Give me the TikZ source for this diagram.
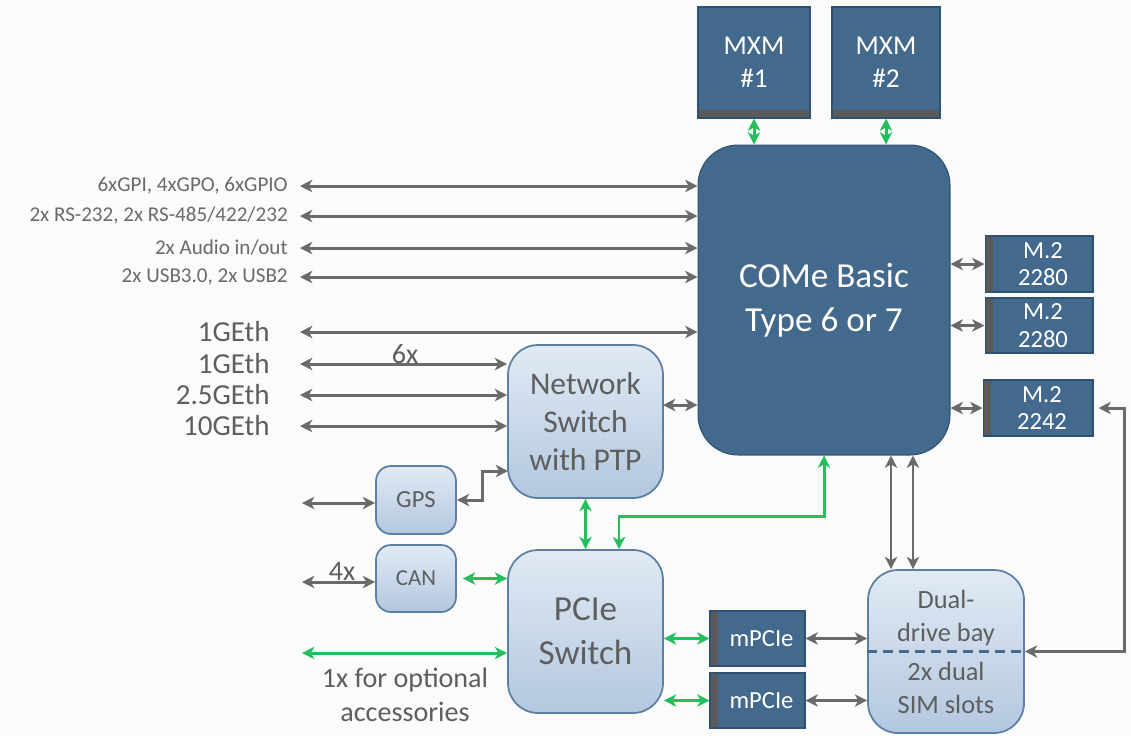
\documentclass[tikz,border=0pt]{standalone}
\usepackage{fontspec}
\setmainfont{Carlito}
\usetikzlibrary{arrows.meta}

\definecolor{boxdark}{HTML}{43698D}
\definecolor{boxedge}{HTML}{2F5273}
\definecolor{bargrey}{HTML}{5A5A5A}
\definecolor{lighttop}{HTML}{E1EAF4}
\definecolor{lightbot}{HTML}{B3C7DF}
\definecolor{lightedge}{HTML}{5C7FA4}
\definecolor{linkgrey}{HTML}{6A6A6A}
\definecolor{linkgreen}{HTML}{22BF5B}
\definecolor{txtgrey}{HTML}{5E5E5E}

\tikzset{
  darkbox/.style={draw=boxedge, line width=0.6pt, fill=boxdark, text=white, align=center, inner sep=0pt},
  botbar/.style={path picture={\fill[bargrey] (path picture bounding box.south west) rectangle ([yshift=0.16cm]path picture bounding box.south east);}},
  leftbar/.style={path picture={\fill[bargrey] (path picture bounding box.south west) rectangle ([xshift=0.16cm]path picture bounding box.north west);}},
  lightbox/.style={draw=lightedge, line width=1pt, top color=lighttop, bottom color=lightbot, text=txtgrey, align=center, inner sep=0pt},
  link/.style={draw=linkgrey, line width=1.7pt, {Stealth[length=7pt,width=7pt,inset=2pt]}-{Stealth[length=7pt,width=7pt,inset=2pt]}},
  glink/.style={link, draw=linkgreen},
  smalltxt/.style={text=linkgrey, font=\fontsize{12}{14}\selectfont, anchor=east, inner sep=0pt},
  ethtxt/.style={text=txtgrey, font=\fontsize{16.5}{19}\selectfont, anchor=east, inner sep=0pt},
  note/.style={text=txtgrey, font=\fontsize{16}{19}\selectfont, align=center, inner sep=0pt}
}

\begin{document}
\begin{tikzpicture}[x=0.02cm, y=-0.02cm]
    \fill[gray!3] (0,0) rectangle (1131,735);
    \useasboundingbox (0,0) rectangle (1131,735);

    % main module and the cards around it
    \node[darkbox, rounded corners=0.8cm, minimum width=5.04cm, minimum height=6.2cm,
        font=\fontsize{20}{25}\selectfont] (come) at (824,300) {COMe Basic\\Type 6 or 7};
    \node[darkbox, botbar, minimum width=2.24cm, minimum height=2.22cm,
        font=\fontsize{15.5}{19}\selectfont] (mxm1) at (754,62.5) {MXM\\\#1};
    \node[darkbox, botbar, minimum width=2.16cm, minimum height=2.22cm,
        font=\fontsize{15.5}{19}\selectfont] (mxm2) at (886,62.5) {MXM\\\#2};
    \node[darkbox, leftbar, minimum width=2.16cm, minimum height=1.12cm,
        font=\fontsize{14}{15.5}\selectfont] (m2a) at (1039,264) {\hspace{0.16cm}M.2\\\hspace{0.16cm}2280};
    \node[darkbox, leftbar, minimum width=2.16cm, minimum height=1.1cm,
        font=\fontsize{14}{15.5}\selectfont] (m2b) at (1039,325.5) {\hspace{0.16cm}M.2\\\hspace{0.16cm}2280};
    \node[darkbox, leftbar, minimum width=2.2cm, minimum height=1.12cm,
        font=\fontsize{14}{15.5}\selectfont] (m2c) at (1038,408) {\hspace{0.16cm}M.2\\\hspace{0.16cm}2242};
    \node[darkbox, leftbar, minimum width=1.9cm, minimum height=1.1cm,
        font=\fontsize{14}{15}\selectfont] (mp1) at (757.5,638.5) {\hspace{0.16cm}mPCIe};
    \node[darkbox, leftbar, minimum width=1.9cm, minimum height=1.1cm,
        font=\fontsize{14}{15}\selectfont] (mp2) at (757.5,700.5) {\hspace{0.16cm}mPCIe};

    % switches and small function blocks
    \node[lightbox, rounded corners=0.6cm, minimum width=3.1cm, minimum height=3.06cm,
        font=\fontsize{18}{21.5}\selectfont] (ns) at (585.5,421.5) {Network\\Switch\\with PTP};
    \node[lightbox, rounded corners=0.6cm, minimum width=3.1cm, minimum height=3.26cm,
        font=\fontsize{20}{25}\selectfont] (pcie) at (585.5,631.5) {PCIe\\Switch};
    \node[lightbox, rounded corners=0.3cm, minimum width=1.6cm, minimum height=1.36cm,
        font=\fontsize{14}{15}\selectfont] (gps) at (416,500) {GPS};
    \node[lightbox, rounded corners=0.3cm, minimum width=1.6cm, minimum height=1.34cm,
        font=\fontsize{13}{15}\selectfont] (can) at (416,578.5) {CAN};
    \node[lightbox, rounded corners=0.6cm, minimum width=3.12cm, minimum height=3.26cm] (dual) at (946,651.5) {};
    \draw[boxdark, line width=1.4pt, dash pattern=on 0.2cm off 0.12cm] (dual.west) -- (dual.east);
    \node[note, font=\fontsize{15}{18.5}\selectfont] (dualtop) at (946,618) {Dual-\\drive bay};
    \node[note, font=\fontsize{15}{18.5}\selectfont] (dualbot) at (946,688) {2x dual\\SIM slots};

    % I/O labels on the left
    \node[smalltxt] (tgpio) at (288,186) {6xGPI, 4xGPO, 6xGPIO};
    \node[smalltxt] (tser) at (288,216) {2x RS-232, 2x RS-485/422/232};
    \node[smalltxt] (taud) at (288,248) {2x Audio in/out};
    \node[smalltxt] (tusb) at (288,277) {2x USB3.0, 2x USB2};
    \node[ethtxt] (teth1) at (270,332) {1GEth};
    \node[ethtxt] (teth2) at (270,364) {1GEth};
    \node[ethtxt] (teth3) at (270,395) {2.5GEth};
    \node[ethtxt] (teth4) at (270,426) {10GEth};
    \node[note] (t6x) at (405,354) {6x};
    \node[note] (t4x) at (342,571) {4x};
    \node[note] (tacc) at (405,695) {1x for optional\\accessories};

    % free ends of the outside lines
    \coordinate (lgpio) at (300,186);
    \coordinate (lser) at (300,216);
    \coordinate (laud) at (300,248);
    \coordinate (lusb) at (300,277);
    \coordinate (leth1) at (300,332);
    \coordinate (leth2) at (300,364);
    \coordinate (leth3) at (300,395);
    \coordinate (leth4) at (300,426);
    \coordinate (lgps) at (302,503);
    \coordinate (lcan) at (302,582);
    \coordinate (lacc) at (302,653);

    \foreach \c in {lgpio,lser,laud,lusb,leth1}
        \draw[link] (\c) -- (\c -| come.west);
    \foreach \c in {leth2,leth3,leth4}
        \draw[link] (\c) -- (\c -| ns.west);
    \draw[link] (lgps) -- (lgps -| gps.west);
    \draw[link] (lcan) -- (lcan -| can.west);
    \draw[glink] (lacc) -- (lacc -| pcie.west);

    % links around the module
    \draw[glink] (mxm1.south) -- (mxm1.south |- come.north);
    \draw[glink] (mxm2.south) -- (mxm2.south |- come.north);
    \foreach \m in {m2a,m2b,m2c}
        \draw[link] (\m.west -| come.east) -- (\m.west);
    \coordinate (nsout) at (663,405);
    \draw[link] (nsout) -- (nsout -| come.west);
    \draw[link] (gps.east) -- (482,500) |- (508,471);
    \draw[glink] ([xshift=0.12cm]can.east) -- (can.east -| pcie.west);
    \draw[glink] (ns.south) -- (pcie.north);
    \draw[glink] ([xshift=0.67cm]pcie.north) -- ++(0,-33) -| (come.south);
    \draw[glink] (mp1.west -| pcie.east) -- (mp1.west);
    \draw[glink] (mp2.west -| pcie.east) -- (mp2.west);
    \draw[link] (mp1.east) -- (mp1.east -| dual.west);
    \draw[link] (mp2.east) -- (mp2.east -| dual.west);
    \draw[link] ([xshift=1.34cm]come.south) -- ([xshift=1.34cm]come.south |- dual.north);
    \draw[link] ([xshift=1.78cm]come.south) -- ([xshift=1.78cm]come.south |- dual.north);
    \draw[link] ([xshift=0.1cm]m2c.east) -- ++(26,0) |- (dual.east);
\end{tikzpicture}
\end{document}
